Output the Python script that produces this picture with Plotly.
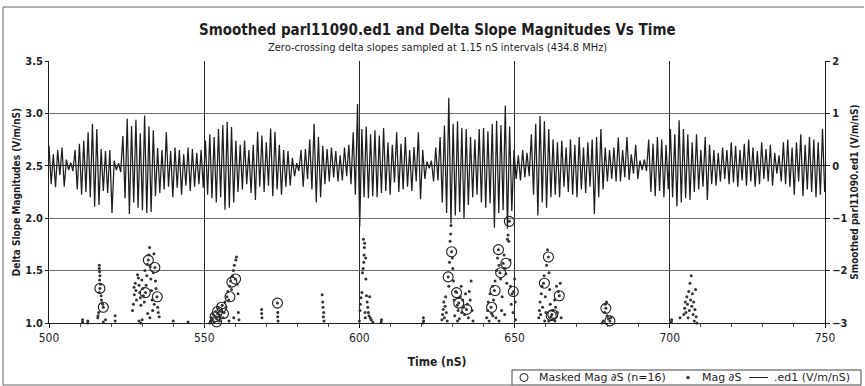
import plotly.graph_objects as go

# Smoothed .ed1 trace (V/m/nS), sampled every 0.7 nS starting at 500 nS
T0_NS = 500.0
STEP_NS = 0.7
ed1_values = [
    0.38, -0.35, 0.22, -0.41, 0.30, -0.18, 0.35, -0.40, 0.12, -0.08,
    0.06, -0.10, 0.30, -0.45, 0.42, -0.55, 0.48, -0.50, 0.64, -0.60,
    0.80, -0.78, 0.70, -0.75, 0.32, -0.48, 0.28, -0.52, 0.30, -0.90,
    0.10, -0.08, 0.05, -0.12, 0.57, -0.62, 0.90, -0.92, 0.76, -0.70,
    0.88, -0.80, 0.62, -0.85, 0.96, -0.90, 0.75, -0.88, 0.68, -0.58,
    0.34, -0.52, 0.30, -0.45, 0.64, -0.40, 0.28, -0.60, 0.35, -0.42,
    0.30, -0.55, 0.22, -0.38, 0.35, -0.48, 0.32, -0.40, 0.25, -0.35,
    0.30, -0.42, 0.48, -0.55, 0.60, -0.62, 0.55, -0.70, 0.70, -0.60,
    0.78, -0.84, 0.84, -0.80, 0.74, -0.70, 0.48, -0.50, 0.40, -0.45,
    0.48, -0.35, 0.30, -0.52, 0.40, -0.65, 0.65, -0.40, 0.58, -0.50,
    0.45, -0.38, 0.71, -0.58, 0.65, -0.45, 0.40, -0.55, 0.30, -0.40,
    0.28, -0.38, 0.15, -0.20, 0.05, -0.10, 0.30, -0.40, 0.32, -0.25,
    0.50, -0.45, 0.80, -0.70, 0.55, -0.60, 0.38, -0.35, 0.32, -0.30,
    0.35, -0.22, 0.28, -0.30, 0.20, -0.28, 0.35, -0.20, 0.40, -0.35,
    0.64, -0.55, 1.18, -1.16, 0.70, -0.60, 0.75, -0.62, 0.60, -0.58,
    0.68, -0.60, 0.58, -0.52, 0.72, -0.48, 0.45, -0.55, 0.40, -0.32,
    0.64, -0.50, 0.42, -0.45, 0.55, -0.40, 0.30, -0.48, 0.36, -0.30,
    0.64, -0.64, 0.30, -0.25, 0.08, -0.05, 0.10, -0.30, 0.35, -0.28,
    0.55, -0.70, 0.77, -0.90, 1.30, -1.10, 0.80, -0.95, 0.85, -0.88,
    0.72, -1.00, 0.70, -0.75, 0.55, -0.60, 0.50, -0.55, 0.70, -0.70,
    0.72, -0.80, 0.66, -0.72, 0.80, -1.18, 0.86, -0.90, 0.78, -0.85,
    1.15, -1.20, 0.75, -0.86, 0.30, -0.25, 0.20, -0.28, 0.30, -0.22,
    0.25, -0.20, 0.60, -0.55, 0.80, -0.95, 0.95, -0.70, 0.85, -0.80,
    0.70, -0.60, 0.50, -0.55, 0.45, -0.60, 0.48, -0.40, 0.35, -0.50,
    0.50, -0.55, 0.40, -0.60, 0.55, -0.45, 0.35, -0.52, 0.45, -0.40,
    0.50, -0.92, 0.55, -0.60, 0.70, -0.45, 0.35, -0.30, 0.30, -0.25,
    0.35, -0.30, 0.54, -0.30, 0.30, -0.22, 0.55, -0.27, 0.22, -0.15,
    0.40, -0.25, 0.10, -0.08, 0.12, -0.10, 0.50, -0.50, 0.42, -0.58,
    0.55, -0.48, 0.50, -0.60, 0.40, -0.45, 0.70, -0.60, 0.60, -0.77,
    0.87, -0.70, 0.70, -0.62, 0.60, -0.65, 0.45, -0.50, 0.60, -0.45,
    0.30, -0.40, 0.55, -0.65, 0.40, -0.35, 0.30, -0.38, 0.25, -0.30,
    0.35, -0.25, 0.30, -0.35, 0.45, -0.32, 0.38, -0.40, 0.30, -0.28,
    0.42, -0.38, 0.50, -0.30, 0.35, -0.40, 0.28, -0.35, 0.45, -0.25,
    0.32, -0.30, 0.40, -0.38, 0.25, -0.15, 0.20, -0.30, 0.45, -0.35,
    0.50, -0.40, 0.35, -0.55, 0.45, -0.30, 0.60, -0.58, 0.40, -0.45,
    0.55, -0.50, 0.50, -0.60, 0.45, -0.55, 0.70, -0.50,
]
ed1_times = [T0_NS + STEP_NS * i for i in range(len(ed1_values))]

# Delta slope magnitudes (time nS, magnitude V/m/nS)
mag_time = [
    510.8, 510.8, 512.5, 512.5, 517.5, 521.3, 521.3, 529.6, 540.0, 544.8,
    516.2, 516.2, 516.3, 516.4, 516.3, 516.6, 516.4, 516.2, 516.8, 516.9,
    517.1, 517.5, 517.3, 516.0, 515.8, 515.7, 518.2,
    526.9, 527.2, 527.5, 527.4, 527.8, 528.0, 528.2, 528.5, 528.8, 529.0,
    529.2, 529.4, 529.6, 529.9, 530.2, 530.4, 530.7, 530.9, 531.1, 531.3,
    531.5, 531.7, 532.0, 532.2, 532.4, 532.6, 532.8, 533.0, 533.2, 533.4,
    533.6, 533.8, 534.1, 534.3, 534.5, 534.8, 535.0, 535.2, 535.5, 532.5,
    530.0, 529.0, 531.8, 533.9,
    551.8, 552.0, 552.3, 552.6, 552.9, 553.2, 553.4, 553.7, 554.0, 554.3,
    554.6, 554.9, 555.2, 555.5, 555.8, 556.1, 556.4, 556.7, 557.0, 557.3,
    557.6, 557.9, 558.2, 558.5, 558.8, 559.1, 559.4, 559.7, 560.0, 560.2,
    560.4, 560.6, 560.9, 561.0, 561.2, 558.0, 559.5,
    568.5, 568.5, 568.6, 573.6, 573.7, 573.7, 573.8,
    588.0, 588.2, 588.3, 588.5, 588.4, 588.6,
    600.0, 600.2, 600.3, 600.5, 600.8, 601.0, 601.2, 601.4, 601.5, 601.6,
    601.7, 601.3, 602.0, 602.1, 602.3, 602.5, 602.7, 602.9, 603.1, 603.3,
    603.5, 603.8, 601.8, 601.9, 604.3, 607.0, 607.1,
    620.6, 620.7, 620.5,
    626.6, 626.8, 627.0, 627.2, 627.4, 627.6, 627.8, 628.0, 628.3, 628.6,
    628.8, 629.0, 629.2, 629.4, 629.7, 629.9, 630.1, 630.3, 630.5, 630.7,
    631.0, 631.3, 631.5, 631.8, 632.0, 632.2, 632.5, 632.8, 633.0, 633.3,
    633.6, 633.9, 634.2, 634.5, 634.8, 635.1, 635.4, 635.7, 636.0, 636.3,
    636.6, 631.6, 629.5,
    641.0, 641.3, 641.5, 641.8, 642.1, 642.4, 642.6, 642.9, 643.2, 643.5,
    643.7, 644.0, 644.2, 644.5, 644.8, 645.0, 645.3, 645.5, 645.8, 646.0,
    646.3, 646.6, 646.9, 647.2, 647.5, 647.7, 647.9, 648.1, 648.3, 648.5,
    648.7, 648.9, 649.2, 649.5, 649.7, 650.0, 650.2, 650.3, 643.0, 646.8,
    645.0,
    657.8, 658.0, 658.2, 658.4, 658.6, 658.8, 659.0, 659.3, 659.5, 659.7,
    659.9, 660.1, 660.3, 660.6, 660.9, 661.1, 661.3, 661.5, 661.7, 662.0,
    662.3, 662.6, 662.9, 663.2, 663.5, 663.8, 664.1, 664.4, 664.7, 665.0,
    661.0, 663.0,
    678.2, 678.6, 679.0, 679.2, 679.4, 679.6, 679.8, 680.2, 680.7, 681.0,
    700.5, 700.6, 703.3, 704.5, 704.8, 705.0, 705.2, 705.5, 705.7, 705.9,
    706.1, 706.3, 706.5, 706.7, 706.9, 707.1, 707.3, 707.5, 707.7, 707.9,
    708.1, 708.3, 708.5, 708.7,
]
mag_value = [
    1.01, 1.03, 1.00, 1.02, 1.01, 1.02, 1.07, 1.00, 1.02, 1.01,
    1.55, 1.52, 1.49, 1.45, 1.41, 1.37, 1.33, 1.29, 1.26, 1.22,
    1.19, 1.15, 1.18, 1.10, 1.07, 1.05, 1.03,
    1.12, 1.18, 1.27, 1.34, 1.38, 1.31, 1.22, 1.46, 1.43, 1.36,
    1.29, 1.24, 1.17, 1.41, 1.33, 1.26, 1.20, 1.50, 1.29, 1.36,
    1.45, 1.56, 1.60, 1.65, 1.72, 1.54, 1.42, 1.31, 1.22, 1.12,
    1.48, 1.66, 1.53, 1.40, 1.33, 1.25, 1.15, 1.10, 1.06, 1.05,
    1.03, 1.02, 1.09, 1.18,
    1.00, 1.02, 1.05, 1.03, 1.08, 1.01, 1.06, 1.11, 1.04, 1.09,
    1.14, 1.02, 1.07, 1.12, 1.17, 1.05, 1.10, 1.20, 1.15, 1.25,
    1.30, 1.22, 1.35, 1.40, 1.32, 1.45, 1.50, 1.55, 1.42, 1.60,
    1.63, 1.37, 1.28, 1.10, 1.03, 1.02, 1.05,
    1.13, 1.09, 1.05, 1.19, 1.10, 1.06, 1.02,
    1.27, 1.20, 1.15, 1.10, 1.06, 1.02,
    1.02, 1.12, 1.18, 1.24, 1.29, 1.48, 1.52, 1.58, 1.65, 1.72,
    1.76, 1.80, 1.62, 1.42, 1.26, 1.20, 1.15, 1.10, 1.07, 1.25,
    1.05, 1.03, 1.10, 1.05, 1.01, 1.01, 1.03,
    1.05, 1.02, 1.00,
    1.03, 1.08, 1.13, 1.20, 1.05, 1.16, 1.25, 1.10, 1.02, 1.44,
    1.35, 1.58, 1.78, 1.85, 1.68, 1.62, 1.52, 1.40, 1.22, 1.07,
    1.30, 1.29, 1.17, 1.12, 1.19, 1.04, 1.25, 1.35, 1.10, 1.22,
    1.15, 1.08, 1.28, 1.13, 1.18, 1.05, 1.30, 1.22, 1.40, 1.12,
    1.02, 1.02, 1.93,
    1.05, 1.12, 1.20, 1.02, 1.28, 1.15, 1.09, 1.35, 1.22, 1.31,
    1.40, 1.05, 1.50, 1.62, 1.70, 1.55, 1.48, 1.42, 1.12, 1.25,
    1.57, 1.65, 1.52, 1.47, 1.38, 1.80, 1.84, 1.78, 1.97, 1.60,
    1.35, 1.18, 1.28, 1.10, 1.30, 1.42, 1.20, 1.03, 1.07, 1.08,
    1.02,
    1.05, 1.12, 1.20, 1.08, 1.28, 1.35, 1.15, 1.38, 1.45, 1.02,
    1.25, 1.10, 1.55, 1.70, 1.63, 1.48, 1.32, 1.18, 1.06, 1.08,
    1.12, 1.04, 1.22, 1.15, 1.35, 1.10, 1.30, 1.26, 1.38, 1.05,
    1.02, 1.02,
    1.00, 1.02, 1.10, 1.18, 1.14, 1.20, 1.07, 1.04, 1.02, 1.05,
    1.01, 1.03, 1.05, 1.08, 1.14, 1.20, 1.10, 1.25, 1.18, 1.05,
    1.30, 1.12, 1.38, 1.22, 1.45, 1.16, 1.28, 1.08, 1.20, 1.02,
    1.13, 1.32, 1.06, 1.00,
]

# Masked delta slope magnitudes
masked_time = [
    516.4, 517.5,
    532.0, 534.1, 531.0, 534.9,
    560.1, 558.9, 558.3, 556.2, 555.6, 554.0, 553.5, 554.3,
    573.6,
    629.7, 628.6, 631.3, 632.0, 634.6,
    648.3, 644.8, 647.2, 645.5, 649.6, 643.7, 642.6,
    660.9, 659.6, 664.4, 662.3, 661.8,
    679.4, 680.7, 678.0,
]
masked_value = [
    1.33, 1.15,
    1.60, 1.53, 1.29, 1.25,
    1.42, 1.39, 1.25, 1.09, 1.15, 1.01, 1.06, 1.11,
    1.19,
    1.68, 1.44, 1.29, 1.19, 1.13,
    1.97, 1.70, 1.57, 1.48, 1.30, 1.31, 1.15,
    1.63, 1.38, 1.26, 1.08, 1.07,
    1.14, 1.02, 0.99,
]

legend_labels = ["Masked Mag ∂S (n=16)", "Mag ∂S", ".ed1 (V/m/nS)"]

FONT = "DejaVu Sans Condensed, DejaVu Sans, Verdana, sans-serif"
KEY_FONT = "DejaVu Sans, Verdana, sans-serif"
INK = "#1e1e1e"

# plot-area geometry in pixels, used to place the key and frame outside the axes
W, H = 865, 386
ML, MR, MT, MB = 49, 40, 61, 63
PW, PH = W - ML - MR, H - MT - MB


def px(x):
    return (x - ML) / PW


def py(y):
    return (H - MB - y) / PH


fig = go.Figure()

fig.add_trace(go.Scatter(
    x=masked_time, y=masked_value, mode="markers", name=legend_labels[0],
    marker=dict(symbol="circle-open", size=10, color=INK, line=dict(width=1.1, color=INK)),
    cliponaxis=False, xaxis="x", yaxis="y",
))
fig.add_trace(go.Scatter(
    x=mag_time, y=mag_value, mode="markers", name=legend_labels[1],
    marker=dict(symbol="circle", size=3, color="#333333"),
    cliponaxis=False, xaxis="x", yaxis="y",
))
fig.add_trace(go.Scatter(
    x=ed1_times, y=ed1_values, mode="lines", name=legend_labels[2],
    line=dict(color=INK, width=1.25), xaxis="x", yaxis="y2",
))

# key: boxed row of symbols and labels under the time axis
key_y = 377.5
key_shapes = [
    dict(type="rect", xref="paper", yref="paper",
         x0=px(512), x1=px(861), y0=py(385), y1=py(370),
         line=dict(color="#444", width=1), fillcolor="white"),
    dict(type="circle", xref="paper", yref="paper", xsizemode="pixel", ysizemode="pixel",
         xanchor=px(524), yanchor=py(key_y), x0=-4, x1=4, y0=-4, y1=4,
         line=dict(color=INK, width=1)),
    dict(type="circle", xref="paper", yref="paper", xsizemode="pixel", ysizemode="pixel",
         xanchor=px(688), yanchor=py(key_y), x0=-1.5, x1=1.5, y0=-1.5, y1=1.5,
         line=dict(color="#333", width=0.5), fillcolor="#333"),
    dict(type="line", xref="paper", yref="paper",
         x0=px(749), x1=px(768), y0=py(key_y), y1=py(key_y),
         line=dict(color=INK, width=1)),
]
key_text = [
    dict(text=legend_labels[0], x=px(537), y=py(key_y)),
    dict(text=legend_labels[1], x=px(700), y=py(key_y)),
    dict(text=legend_labels[2], x=px(772), y=py(key_y)),
]
key_annotations = [
    dict(text=k["text"], xref="paper", yref="paper", x=k["x"], y=k["y"],
         xanchor="left", yanchor="middle", showarrow=False,
         font=dict(size=11, family=KEY_FONT, color=INK))
    for k in key_text
]

# outer chart frame (top, left and bottom edges)
frame_shapes = [
    dict(type="line", xref="paper", yref="paper", x0=px(3), x1=px(864), y0=py(7), y1=py(7),
         line=dict(color="#666", width=1), layer="below"),
    dict(type="line", xref="paper", yref="paper", x0=px(3), x1=px(3), y0=py(7), y1=py(385),
         line=dict(color="#666", width=1), layer="below"),
    dict(type="line", xref="paper", yref="paper", x0=px(3), x1=px(512), y0=py(385), y1=py(385),
         line=dict(color="#666", width=1), layer="below"),
]

fig.update_layout(
    width=W, height=H,
    margin=dict(l=ML, r=MR, t=MT, b=MB, autoexpand=False),
    paper_bgcolor="white", plot_bgcolor="white",
    font=dict(family=FONT, color=INK, size=11),
    showlegend=False,
    xaxis=dict(
        range=[500, 750], dtick=50, tick0=500, automargin=False,
        showline=True, linecolor=INK, linewidth=1,
        showgrid=True, gridcolor="#2a2a2a", gridwidth=1,
        zeroline=False, ticks="outside", ticklen=4, tickcolor=INK,
        minor=dict(dtick=10, ticks="outside", ticklen=3, tickcolor="#555", showgrid=False),
        tickfont=dict(size=12, family=FONT),
        title=dict(text="<b>Time (nS)</b>", font=dict(size=12, family=FONT), standoff=13),
    ),
    yaxis=dict(
        range=[1.0, 3.5], dtick=0.5, tick0=1.0, tickformat=".1f", automargin=False,
        showline=True, linecolor=INK, linewidth=1,
        showgrid=True, gridcolor="#6e6e6e", gridwidth=1,
        zeroline=False, ticks="outside", ticklen=3, tickcolor=INK,
        tickfont=dict(size=11, family=FONT), tickprefix="<b>", ticksuffix="</b>",
        title=dict(text="<b>Delta Slope Magnitudes (V/m/nS)</b>", font=dict(size=10, family=FONT), standoff=2),
    ),
    yaxis2=dict(
        range=[-3, 2], dtick=1, overlaying="y", side="right", automargin=False,
        showline=True, linecolor=INK, linewidth=1,
        showgrid=False, zeroline=True, zerolinecolor=INK, zerolinewidth=1.2,
        ticks="outside", ticklen=4, tickcolor=INK,
        tickfont=dict(size=11, family=FONT), tickprefix="<b>", ticksuffix="</b>",
        title=dict(text="<b>Smoothed parl11090.ed1 (V/m/nS)</b>", font=dict(size=10, family=FONT), standoff=4),
    ),
    shapes=frame_shapes + key_shapes,
    annotations=[
        dict(text="<b>Smoothed parl11090.ed1 and Delta Slope Magnitudes Vs Time</b>",
             xref="paper", yref="paper", x=0.5, y=py(30), xanchor="center", yanchor="middle",
             showarrow=False, font=dict(size=15, family=FONT, color=INK)),
        dict(text="Zero-crossing delta slopes sampled at 1.15 nS intervals (434.8 MHz)",
             xref="paper", yref="paper", x=0.5, y=py(47), xanchor="center", yanchor="middle",
             showarrow=False, font=dict(size=11, family=FONT, color=INK)),
    ] + key_annotations,
)

fig.write_html("out.html")
